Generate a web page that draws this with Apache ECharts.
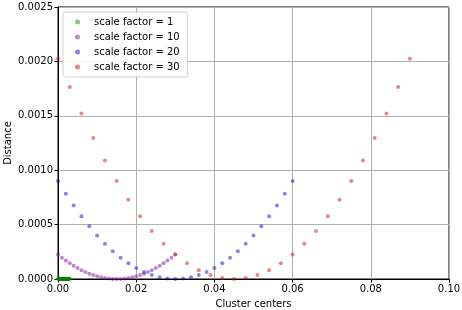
<!DOCTYPE html>
<html>
<head>
<meta charset="utf-8">
<script src="https://cdn.jsdelivr.net/npm/echarts@6/dist/echarts.min.js"></script>
<style>html,body{margin:0;padding:0;background:#fff}#c{width:462px;height:310px}</style>
</head>
<body>
<div id="c"></div>
<script>
// Data
var seriesNames = ['scale factor = 1', 'scale factor = 10', 'scale factor = 20', 'scale factor = 30'];

var x1 = [0,0.0001,0.0002,0.0003,0.0004,0.0005,0.0006,0.0007,0.0008,0.0009,0.001,0.0011,0.0012,0.0013,0.0014,0.0015,0.0016,0.0017,0.0018,0.0019,0.002,0.0021,0.0022,0.0023,0.0024,0.0025,0.0026,0.0027,0.0028,0.0029,0.003];
var y1 = [2.25e-6,1.96e-6,1.69e-6,1.44e-6,1.21e-6,1.0e-6,8.1e-7,6.4e-7,4.9e-7,3.6e-7,2.5e-7,1.6e-7,9e-8,4e-8,1e-8,0,1e-8,4e-8,9e-8,1.6e-7,2.5e-7,3.6e-7,4.9e-7,6.4e-7,8.1e-7,1.0e-6,1.21e-6,1.44e-6,1.69e-6,1.96e-6,2.25e-6];

var x10 = [0,0.001,0.002,0.003,0.004,0.005,0.006,0.007,0.008,0.009,0.010,0.011,0.012,0.013,0.014,0.015,0.016,0.017,0.018,0.019,0.020,0.021,0.022,0.023,0.024,0.025,0.026,0.027,0.028,0.029,0.030];
var y10 = [0.000225,0.000196,0.000169,0.000144,0.000121,0.0001,0.000081,0.000064,0.000049,0.000036,0.000025,0.000016,0.000009,0.000004,0.000001,0,0.000001,0.000004,0.000009,0.000016,0.000025,0.000036,0.000049,0.000064,0.000081,0.0001,0.000121,0.000144,0.000169,0.000196,0.000225];

var x20 = [0,0.002,0.004,0.006,0.008,0.010,0.012,0.014,0.016,0.018,0.020,0.022,0.024,0.026,0.028,0.030,0.032,0.034,0.036,0.038,0.040,0.042,0.044,0.046,0.048,0.050,0.052,0.054,0.056,0.058,0.060];
var y20 = [0.0009,0.000784,0.000676,0.000576,0.000484,0.0004,0.000324,0.000256,0.000196,0.000144,0.0001,0.000064,0.000036,0.000016,0.000004,0,0.000004,0.000016,0.000036,0.000064,0.0001,0.000144,0.000196,0.000256,0.000324,0.0004,0.000484,0.000576,0.000676,0.000784,0.0009];

var x30 = [0,0.003,0.006,0.009,0.012,0.015,0.018,0.021,0.024,0.027,0.030,0.033,0.036,0.039,0.042,0.045,0.048,0.051,0.054,0.057,0.060,0.063,0.066,0.069,0.072,0.075,0.078,0.081,0.084,0.087,0.090];
var y30 = [0.002025,0.001764,0.001521,0.001296,0.001089,0.0009,0.000729,0.000576,0.000441,0.000324,0.000225,0.000144,0.000081,0.000036,0.000009,0,0.000009,0.000036,0.000081,0.000144,0.000225,0.000324,0.000441,0.000576,0.000729,0.0009,0.001089,0.001296,0.001521,0.001764,0.002025];

var xTicks = [0, 0.02, 0.04, 0.06, 0.08, 0.10];
var yTicks = [0, 0.0005, 0.0010, 0.0015, 0.0020, 0.0025];

var colors = ['rgba(0,128,0,0.6)', 'rgba(125,0,145,0.6)', 'rgba(0,0,210,0.6)', 'rgba(210,10,10,0.62)'];

function pairs(xs, ys) { return xs.map(function (x, i) { return [x, ys[i]]; }); }
var xs = [x1, x10, x20, x30], ys = [y1, y10, y20, y30];

var FONT = 'DejaVu Sans';
var chart = echarts.init(document.getElementById('c'), null, {renderer: 'canvas'});
chart.setOption({
  animation: false,
  textStyle: {fontFamily: FONT},
  grid: {left: 58, right: 13, top: 7, bottom: 31, containLabel: false, outerBoundsMode: 'none',
         show: true, borderColor: '#000', borderWidth: 1, backgroundColor: 'transparent'},
  legend: {
    orient: 'vertical', left: 63, top: 12,
    icon: 'circle', itemWidth: 5, itemHeight: 5, itemGap: 5,
    padding: [5, 8, 5, 12],
    backgroundColor: 'rgba(255,255,255,0.85)', borderColor: '#d0d0d0', borderWidth: 1, borderRadius: 3,
    textStyle: {fontFamily: FONT, fontSize: 10, color: '#000', padding: [0, 0, 0, 9]},
    data: seriesNames
  },
  xAxis: {
    type: 'value', min: xTicks[0], max: xTicks[xTicks.length - 1], interval: 0.02,
    name: 'Cluster centers', nameLocation: 'middle', nameGap: 20, nameMoveOverlap: false,
    nameTextStyle: {fontFamily: FONT, fontSize: 10, color: '#000'},
    axisLine: {show: true, onZero: false, lineStyle: {color: '#000', width: 1}},
    axisTick: {show: true, length: 3.5, lineStyle: {color: '#000'}},
    axisLabel: {fontFamily: FONT, fontSize: 10, color: '#000', margin: 5, formatter: function (v) { return v.toFixed(2); }},
    splitLine: {show: true, lineStyle: {color: '#b0b0b0', width: 1}}
  },
  yAxis: {
    type: 'value', min: yTicks[0], max: yTicks[yTicks.length - 1], interval: 0.0005,
    name: 'Distance', nameLocation: 'middle', nameGap: 45, nameRotate: 90, nameMoveOverlap: false,
    nameTextStyle: {fontFamily: FONT, fontSize: 10, color: '#000'},
    axisLine: {show: true, onZero: false, lineStyle: {color: '#000', width: 1}},
    axisTick: {show: true, length: 3.5, lineStyle: {color: '#000'}},
    axisLabel: {fontFamily: FONT, fontSize: 10, color: '#000', margin: 5, formatter: function (v) { return v.toFixed(4); }},
    splitLine: {show: true, lineStyle: {color: '#b0b0b0', width: 1}}
  },
  series: seriesNames.map(function (n, k) {
    return {
      name: n, type: 'scatter', symbol: 'circle', symbolSize: 4,
      itemStyle: {color: colors[k]},
      data: pairs(xs[k], ys[k])
    };
  })
});
</script>
</body>
</html>
